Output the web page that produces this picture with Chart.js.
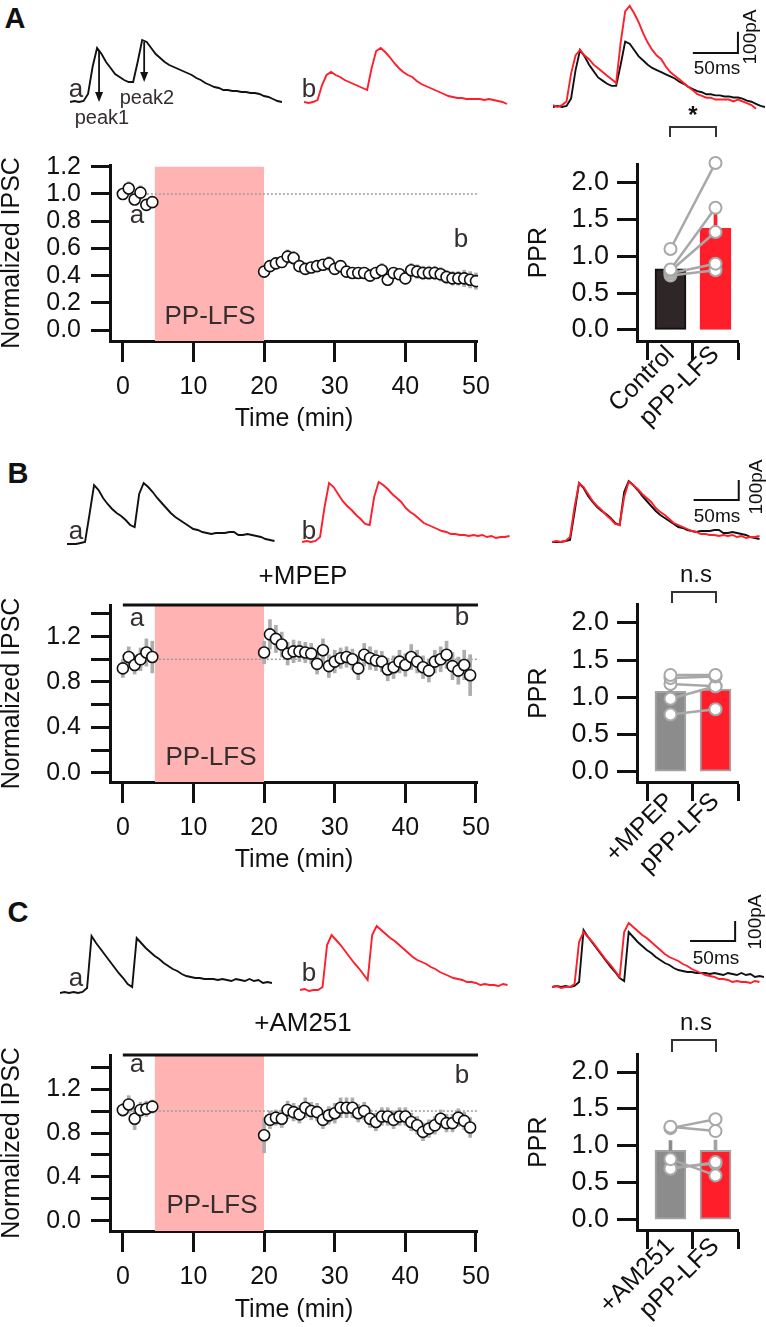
<!DOCTYPE html>
<html>
<head>
<meta charset="utf-8">
<script src="https://cdn.jsdelivr.net/npm/chart.js@4.4.1/dist/chart.umd.min.js"></script>
<style>
  body { margin: 0; background: #fff; }
  #fig { position: relative; width: 766px; height: 1327px; overflow: hidden; font-family: "Liberation Sans", Arial, sans-serif; color: #111; }
  #fig canvas { position: absolute; }
  .t { position: absolute; transform: translate(-50%, -50%); white-space: nowrap; line-height: 1; }
  .lab { font-size: 26px; color: #352e2e; }
  .pk { font-size: 20px; color: #352e2e; }
  .panel { font-size: 29px; font-weight: bold; }
  .drug { font-size: 26px; color: #111; }
  .sb { font-size: 19px; }
  .vert { transform: translate(-50%, -50%) rotate(-90deg); }
  .bracket { position: absolute; box-sizing: border-box; border: 2px solid #333; border-bottom: none; }
</style>
</head>
<body>
<div id="fig">
  <canvas id="trA1" width="212" height="73" style="left:70px;top:35px"></canvas>
  <canvas id="trA2" width="212" height="73" style="left:304px;top:36px"></canvas>
  <canvas id="trA3" width="212" height="115" style="left:553px;top:0px"></canvas>
  <canvas id="tcA" width="500" height="296" style="left:0px;top:140px"></canvas>
  <canvas id="pprA" width="246" height="296" style="left:520px;top:140px"></canvas>

  <canvas id="trB1" width="212" height="80" style="left:67px;top:470px"></canvas>
  <canvas id="trB2" width="212" height="80" style="left:302px;top:468px"></canvas>
  <canvas id="trB3" width="212" height="80" style="left:552px;top:468px"></canvas>
  <canvas id="tcB" width="500" height="297" style="left:0px;top:580px"></canvas>
  <canvas id="pprB" width="246" height="300" style="left:520px;top:580px"></canvas>

  <canvas id="trC1" width="212" height="85" style="left:60px;top:915px"></canvas>
  <canvas id="trC2" width="212" height="85" style="left:300px;top:912px"></canvas>
  <canvas id="trC3" width="212" height="85" style="left:552px;top:909px"></canvas>
  <canvas id="tcC" width="500" height="297" style="left:0px;top:1030px"></canvas>
  <canvas id="pprC" width="246" height="297" style="left:520px;top:1030px"></canvas>

  <div class="t panel" style="left:15px;top:18px">A</div>
  <div class="t panel" style="left:18px;top:473px">B</div>
  <div class="t panel" style="left:18px;top:912px">C</div>

  <div class="t lab" style="left:76px;top:88px">a</div>
  <div class="t lab" style="left:309px;top:88px">b</div>
  <div class="t pk" style="left:102px;top:117px">peak1</div>
  <div class="t pk" style="left:147px;top:97px">peak2</div>
  <div class="t lab" style="left:76px;top:530px">a</div>
  <div class="t lab" style="left:309px;top:530px">b</div>
  <div class="t lab" style="left:76px;top:977px">a</div>
  <div class="t lab" style="left:309px;top:972px">b</div>

  <div class="t lab" style="left:137px;top:214px">a</div>
  <div class="t lab" style="left:461px;top:238px">b</div>
  <div class="t lab" style="left:137px;top:617px">a</div>
  <div class="t lab" style="left:462px;top:616px">b</div>
  <div class="t lab" style="left:137px;top:1063px">a</div>
  <div class="t lab" style="left:462px;top:1074px">b</div>

  <div class="t lab" style="left:210px;top:315px">PP-LFS</div>
  <div class="t lab" style="left:211px;top:756px">PP-LFS</div>
  <div class="t lab" style="left:212px;top:1204px">PP-LFS</div>
  <div class="t drug" style="left:303px;top:575px">+MPEP</div>
  <div class="t drug" style="left:303px;top:1022px">+AM251</div>

  <div class="t" style="left:693px;top:115px;font-size:24px;font-weight:bold">*</div>
  <div class="bracket" style="left:669px;top:126px;width:48px;height:11px"></div>
  <div class="t" style="left:696px;top:574px;font-size:24px">n.s</div>
  <div class="bracket" style="left:671px;top:591px;width:46px;height:12px"></div>
  <div class="t" style="left:696px;top:1022px;font-size:24px">n.s</div>
  <div class="bracket" style="left:671px;top:1039px;width:46px;height:13px"></div>

  <div class="t sb" style="left:717px;top:67px">50ms</div>
  <div class="t sb vert" style="left:749px;top:37px">100pA</div>
  <div class="t sb" style="left:717px;top:515px">50ms</div>
  <div class="t sb vert" style="left:755px;top:487px">100pA</div>
  <div class="t sb" style="left:716px;top:957px">50ms</div>
  <div class="t sb vert" style="left:754px;top:922px">100pA</div>
</div>

<script>
// ---- trace data (pA, one sample every 5 ms) ----
const traceMs = [0, 5, 10, 15, 20, 25, 30, 35, 40, 45, 50, 55, 60, 65, 70, 75, 80, 85, 90, 95, 100, 105, 110, 115,
    120, 125, 130, 135, 140, 145, 150, 155, 160, 165, 170, 175, 180, 185, 190, 195, 200, 205, 210, 215, 220, 225, 230, 235];

const traceA_ctrl = [0, 5, 0, 5, 40, 175, 270, 240, 200, 170, 140, 125, 110, 100, 100, 200, 310, 300, 270, 240, 220, 200, 185, 175,
    165, 155, 145, 135, 120, 110, 95, 85, 75, 70, 60, 60, 55, 55, 50, 50, 45, 45, 40, 30, 25, 15, 5, 0];
const traceA_lfs = [5, 0, 5, 15, 90, 140, 155, 140, 130, 115, 105, 95, 85, 75, 65, 175, 260, 275, 255, 230, 200, 175, 155, 140,
    130, 110, 95, 85, 75, 65, 55, 45, 35, 30, 25, 25, 20, 20, 20, 20, 15, 20, 15, 10, 5, -5];
const traceB_ctrl = [0, 0, 0, 5, 10, 150, 295, 270, 230, 200, 175, 155, 140, 120, 95, 85, 250, 305, 285, 260, 230, 205, 180, 155,
    135, 120, 105, 90, 75, 70, 60, 55, 50, 55, 55, 55, 60, 60, 45, 45, 50, 45, 40, 35, 25, 20, 15];
const traceB_lfs = [0, 5, 0, 5, 25, 175, 295, 275, 240, 205, 180, 160, 135, 115, 90, 85, 225, 300, 285, 265, 240, 220, 200, 170,
    150, 135, 115, 95, 85, 75, 65, 55, 50, 40, 40, 35, 35, 30, 35, 30, 35, 25, 30, 20, 25, 25, 30];
const traceC_ctrl = [0, 5, 0, 5, 0, 5, 25, 285, 250, 220, 190, 160, 130, 100, 75, 45, 30, 275, 250, 225, 205, 185, 170, 150,
    135, 120, 110, 95, 85, 80, 75, 75, 70, 70, 70, 65, 70, 65, 60, 70, 65, 60, 70, 60, 65, 50, 55, 50];
const traceC_lfs = [0, 5, -5, 0, 0, 15, 225, 275, 250, 225, 195, 165, 135, 110, 80, 50, 275, 320, 300, 280, 260, 245, 225, 205,
    185, 165, 150, 140, 130, 115, 105, 90, 80, 70, 60, 55, 50, 40, 40, 35, 25, 30, 25, 25, 20, 30, 25];

// ---- time course data (normalized IPSC, mean and SEM) ----
const minutes = [0, 0.83, 1.67, 2.5, 3.33, 4.17,
    20, 20.83, 21.67, 22.5, 23.33, 24.17, 25, 25.83, 26.67, 27.5, 28.33, 29.17, 30, 30.83, 31.67, 32.5, 33.33, 34.17,
    35, 35.83, 36.67, 37.5, 38.33, 39.17, 40, 40.83, 41.67, 42.5, 43.33, 44.17, 45, 45.83, 46.67, 47.5, 48.33, 49.17, 50];
const stimWindow = [4.5, 20];
const timeTicks = [0, 10, 20, 30, 40, 50];

const ipscA = [1.00, 1.04, 0.96, 1.01, 0.92, 0.94,
    0.43, 0.47, 0.49, 0.50, 0.54, 0.53, 0.47, 0.45, 0.46, 0.47, 0.48, 0.49, 0.45, 0.47, 0.43, 0.42, 0.42, 0.42,
    0.40, 0.42, 0.44, 0.37, 0.42, 0.41, 0.38, 0.44, 0.43, 0.42, 0.42, 0.42, 0.41, 0.39, 0.38, 0.38, 0.38, 0.37, 0.36];
const semA = [0.04, 0.05, 0.04, 0.05, 0.04, 0.03,
    0.04, 0.04, 0.04, 0.04, 0.05, 0.05, 0.04, 0.04, 0.04, 0.04, 0.04, 0.05, 0.04, 0.04, 0.04, 0.03, 0.03, 0.03,
    0.04, 0.03, 0.05, 0.04, 0.04, 0.04, 0.04, 0.05, 0.05, 0.05, 0.05, 0.05, 0.05, 0.05, 0.05, 0.05, 0.06, 0.06, 0.06];
const ipscB = [0.92, 1.02, 0.95, 1.00, 1.06, 1.02,
    1.06, 1.22, 1.18, 1.13, 1.05, 1.07, 1.07, 1.06, 1.05, 0.96, 1.08, 0.94, 0.98, 1.01, 1.02, 1.00, 0.92, 1.04,
    1.01, 0.99, 0.98, 0.91, 0.93, 0.98, 0.95, 1.02, 0.98, 0.93, 0.90, 0.98, 1.00, 1.04, 0.94, 0.90, 0.95, 0.86];
const semB = [0.08, 0.09, 0.08, 0.10, 0.12, 0.14,
    0.10, 0.13, 0.12, 0.11, 0.10, 0.10, 0.09, 0.09, 0.09, 0.09, 0.10, 0.10, 0.10, 0.09, 0.09, 0.09, 0.10, 0.10,
    0.10, 0.09, 0.09, 0.10, 0.10, 0.10, 0.10, 0.11, 0.10, 0.10, 0.10, 0.10, 0.11, 0.12, 0.12, 0.12, 0.13, 0.18];
const ipscC = [1.01, 1.06, 0.93, 1.01, 1.02, 1.04,
    0.78, 0.92, 0.94, 0.93, 1.01, 0.99, 0.97, 1.03, 1.00, 0.99, 0.92, 0.96, 0.98, 1.03, 1.03, 1.03, 0.98, 1.00,
    0.93, 0.90, 0.95, 0.95, 0.92, 0.95, 0.95, 0.90, 0.87, 0.81, 0.84, 0.87, 0.93, 0.89, 0.89, 0.94, 0.91, 0.85];
const semC = [0.06, 0.08, 0.10, 0.07, 0.07, 0.06,
    0.16, 0.08, 0.07, 0.08, 0.08, 0.08, 0.08, 0.09, 0.08, 0.08, 0.08, 0.08, 0.09, 0.09, 0.09, 0.09, 0.08, 0.08,
    0.08, 0.08, 0.08, 0.08, 0.08, 0.08, 0.08, 0.08, 0.08, 0.08, 0.08, 0.08, 0.08, 0.08, 0.08, 0.08, 0.08, 0.09];

// ---- paired-pulse ratio ----
const pprNamesA = ['Control', 'pPP-LFS'];
const pprNamesB = ['+MPEP', 'pPP-LFS'];
const pprNamesC = ['+AM251', 'pPP-LFS'];
const pprMeanA = [0.83, 1.38];
const pprErrA = [0.06, 0.19];
const pprMeanB = [1.08, 1.11];
const pprErrB = [0.09, 0.08];
const pprMeanC = [0.94, 0.94];
const pprErrC = [0.13, 0.14];
const cellsA_before = [1.10, 0.82, 0.80, 0.77, 0.74];
const cellsA_after = [2.27, 1.66, 1.33, 0.90, 0.81];
const cellsB_before = [1.30, 1.26, 1.18, 0.98, 0.77];
const cellsB_after = [1.30, 1.28, 1.15, 1.15, 0.84];
const cellsC_before = [1.26, 1.24, 0.82, 0.69, 0.70];
const cellsC_after = [1.20, 1.36, 0.60, 0.78, 0.76];

Chart.defaults.font.family = '"Liberation Sans", Arial, sans-serif';
Chart.defaults.font.size = 25;
Chart.defaults.color = '#111';
Chart.defaults.animation = false;

const RED = '#ff1e2a';
const AXIS = '#111';

// arrows marking peak1 / peak2 on the first trace
const peakArrows = {
    id: 'peakArrows',
    afterDatasetsDraw(chart) {
        const vals = chart.data.datasets[0].data.map(p => p.y);
        const pts = chart.getDatasetMeta(0).data;
        let p1 = 0;
        for (let i = 0; i < 12; i++) if (vals[i] > vals[p1]) p1 = i;
        let tr = p1;
        for (let i = p1; i < p1 + 12; i++) if (vals[i] < vals[tr]) tr = i;
        let p2 = tr;
        for (let i = tr; i < tr + 6; i++) if (vals[i] > vals[p2]) p2 = i;
        const y = chart.scales.y, ctx = chart.ctx;
        [[p1, 0], [p2, vals[tr]]].forEach(([i, base]) => {
            const x = pts[i].x + 2, y0 = y.getPixelForValue(vals[i]) + 2, y1 = y.getPixelForValue(base);
            ctx.save();
            ctx.strokeStyle = ctx.fillStyle = '#111';
            ctx.lineWidth = 1.8;
            ctx.beginPath(); ctx.moveTo(x, y0); ctx.lineTo(x, y1 - 8); ctx.stroke();
            ctx.beginPath(); ctx.moveTo(x - 4, y1 - 10); ctx.lineTo(x + 4, y1 - 10); ctx.lineTo(x, y1); ctx.closePath(); ctx.fill();
            ctx.restore();
        });
    }
};

function traceSet(values, color, axis) {
    return {
        data: values.map((v, i) => ({x: traceMs[i], y: v})),
        borderColor: color, borderWidth: 1.9, pointRadius: 0, tension: 0, clip: false, yAxisID: axis || 'y'
    };
}

function traceChart(id, datasets, yRange, opts) {
    opts = opts || {};
    const scales = {
        x: {type: 'linear', display: false, min: 0, max: 235},
        y: {type: 'linear', display: false, min: yRange[0], max: yRange[1]}
    };
    if (opts.y2) scales.y2 = {type: 'linear', display: false, min: opts.y2[0], max: opts.y2[1]};
    if (opts.scaleBar) {
        // 50 ms / 100 pA calibration bar
        const sb = opts.scaleBar;
        datasets.push({
            data: [{x: sb[0], y: sb[1]}, {x: sb[0] + 50, y: sb[1]}, {x: sb[0] + 50, y: sb[1] + 100}],
            borderColor: '#111', borderWidth: 2, pointRadius: 0, clip: false
        });
    }
    new Chart(document.getElementById(id), {
        type: 'line',
        data: {datasets: datasets},
        options: {
            responsive: false,
            events: [],
            layout: {padding: 0},
            plugins: {legend: {display: false}, tooltip: {enabled: false}},
            scales: scales
        },
        plugins: opts.arrows ? [peakArrows] : []
    });
}

function timeCourseChart(id, vals, sems, cfg) {
    const xMax = 50.28;
    const datasets = [
        {
            type: 'scatter', order: 0,
            data: vals.map((v, i) => ({x: minutes[i], y: v})),
            pointRadius: 5.5, pointBorderWidth: 1.6, pointBorderColor: '#111', pointBackgroundColor: '#fff'
        },
        {
            type: 'bar', order: 1, grouped: false,
            data: vals.map((v, i) => ({x: minutes[i], y: [v - sems[i], v + sems[i]]})),
            barThickness: 3, backgroundColor: '#adadad'
        },
        {
            type: 'line', order: 2, clip: false,
            data: [{x: 0, y: 1}, {x: xMax, y: 1}],
            borderColor: '#9c9c9c', borderWidth: 1.5, borderDash: [2, 2], pointRadius: 0
        },
        {
            type: 'line', order: 4, fill: 'start',
            data: [{x: stimWindow[0], y: cfg.pinkTop}, {x: stimWindow[1], y: cfg.pinkTop}],
            backgroundColor: '#ffb3b3', borderWidth: 0, pointRadius: 0
        }
    ];
    if (cfg.drug) {
        datasets.push({
            type: 'line', order: 2, clip: false,
            data: [{x: 0, y: cfg.yMax}, {x: xMax, y: cfg.yMax}],
            borderColor: '#111', borderWidth: 3, pointRadius: 0
        });
    }
    new Chart(document.getElementById(id), {
        type: 'scatter',
        data: {datasets: datasets},
        options: {
            responsive: false,
            events: [],
            layout: {padding: {top: cfg.padTop, right: 18, left: 0, bottom: 0}},
            plugins: {legend: {display: false}, tooltip: {enabled: false}},
            scales: {
                x: {
                    type: 'linear', min: -1.82, max: xMax, offset: false,
                    afterBuildTicks: s => { s.ticks = timeTicks.map(v => ({value: v})); },
                    afterFit: s => { s.height = cfg.xHeight; },
                    border: {width: 3, color: AXIS},
                    grid: {offset: false, drawOnChartArea: false, tickLength: 21, tickWidth: 3, color: AXIS},
                    ticks: {padding: 10, autoSkip: false, maxRotation: 0, color: '#111'},
                    title: {display: true, text: 'Time (min)', padding: {top: 0, bottom: 2}, color: '#111'}
                },
                y: {
                    type: 'linear', min: cfg.yMin, max: cfg.yMax,
                    afterBuildTicks: s => { s.ticks = cfg.yTicks.map(v => ({value: v})); },
                    afterFit: s => { s.width = 110; },
                    border: {width: 3, color: AXIS},
                    grid: {drawOnChartArea: false, tickLength: 19, tickWidth: 3, color: AXIS},
                    ticks: {padding: 10, autoSkip: false, color: '#111', callback: (v, i) => cfg.yLabels[i]},
                    title: {display: true, text: 'Normalized IPSC', padding: 0, font: {size: 25, lineHeight: 1}, color: '#111'}
                }
            }
        }
    });
}

function pprChart(id, names, means, errs, before, after, cfg) {
    const datasets = [
        {
            type: 'bar', order: 3, grouped: false,
            data: means.map((m, i) => ({x: i, y: m})),
            backgroundColor: cfg.fill, borderColor: cfg.edge, borderWidth: 2, borderSkipped: false, barThickness: 31
        },
        {
            type: 'bar', order: 2, grouped: false,
            data: means.map((m, i) => ({x: i, y: [m, m + errs[i]]})),
            backgroundColor: cfg.whisker, barThickness: 3
        }
    ];
    before.forEach((b, i) => {
        datasets.push({
            type: 'line', order: 0, clip: false,
            data: [{x: 0, y: b}, {x: 1, y: after[i]}],
            borderColor: '#a8a8a8', borderWidth: 2.5,
            pointRadius: 6, pointBackgroundColor: '#fff', pointBorderColor: '#a8a8a8', pointBorderWidth: 2
        });
    });
    new Chart(document.getElementById(id), {
        type: 'bar',
        data: {datasets: datasets},
        options: {
            responsive: false,
            events: [],
            layout: {padding: {top: cfg.padTop, right: 28, left: 0, bottom: 0}},
            plugins: {legend: {display: false}, tooltip: {enabled: false}},
            scales: {
                x: {
                    type: 'linear', min: -0.744, max: 1.5, offset: false,
                    afterBuildTicks: s => { s.ticks = [-0.5, 0, 0.5, 1, 1.5].map(v => ({value: v})); },
                    afterFit: s => { s.height = cfg.xHeight; },
                    border: {width: 3, color: AXIS},
                    grid: {
                        offset: false, drawOnChartArea: false, tickLength: 19, tickWidth: 3,
                        color: c => Number.isInteger(c.tick && c.tick.value) ? 'rgba(0,0,0,0)' : AXIS
                    },
                    ticks: {
                        autoSkip: false, minRotation: 45, maxRotation: 45, padding: cfg.labelPad, color: '#111',
                        callback: v => v === 0 ? names[0] : (v === 1 ? names[1] : '')
                    }
                },
                y: {
                    type: 'linear', min: cfg.yMin, max: cfg.yMax,
                    afterBuildTicks: s => { s.ticks = [0, 0.5, 1, 1.5, 2].map(v => ({value: v})); },
                    afterFit: s => { s.width = 117; },
                    border: {width: 3, color: AXIS},
                    grid: {drawOnChartArea: false, tickLength: 20, tickWidth: 3, color: AXIS},
                    ticks: {padding: 8, autoSkip: false, color: '#111', font: {size: 27}, callback: v => v.toFixed(1)},
                    title: {display: true, text: 'PPR', padding: {top: 4, bottom: 4}, color: '#111'}
                }
            }
        }
    });
}

// panel A
traceChart('trA1', [traceSet(traceA_ctrl, '#111')], [-30, 335], {arrows: true});
traceChart('trA2', [traceSet(traceA_lfs, RED)], [-30, 335]);
traceChart('trA3', [traceSet(traceA_lfs, RED, 'y2'), traceSet(traceA_ctrl, '#111')], [-38, 507],
    {y2: [-22, 291], scaleBar: [155, 256]});
timeCourseChart('tcA', ipscA, semA, {
    yMin: -0.08, yMax: 1.213, pinkTop: 1.2, padTop: 8, xHeight: 95, drug: false,
    yTicks: [0, 0.2, 0.4, 0.6, 0.8, 1.0, 1.2],
    yLabels: ['0.0', '0.2', '0.4', '0.6', '0.8', '1.0', '1.2']
});
pprChart('pprA', pprNamesA, pprMeanA, pprErrA, cellsA_before, cellsA_after, {
    yMin: -0.152, yMax: 2.253, padTop: 11, xHeight: 95, labelPad: -20,
    fill: ['#2e2627', RED], edge: ['#111', RED], whisker: ['#111', RED]
});

// panel B
traceChart('trB1', [traceSet(traceB_ctrl, '#111')], [-30, 370]);
traceChart('trB2', [traceSet(traceB_lfs, RED)], [-30, 370]);
traceChart('trB3', [traceSet(traceB_lfs, RED), traceSet(traceB_ctrl, '#111')], [-30, 370], {scaleBar: [157, 210]});
timeCourseChart('tcB', ipscB, semB, {
    yMin: -0.082, yMax: 1.479, pinkTop: 1.479, padTop: 12, xHeight: 95, drug: true,
    yTicks: [0, 0.2, 0.4, 0.6, 0.8, 1.0, 1.2, 1.4],
    yLabels: ['0.0', '', '0.4', '', '0.8', '', '1.2', '']
});
pprChart('pprB', pprNamesB, pprMeanB, pprErrB, cellsB_before, cellsB_after, {
    yMin: -0.138, yMax: 2.252, padTop: 12, xHeight: 98, labelPad: -14,
    fill: ['#8c8c8c', RED], edge: ['#a3a3a3', '#a3a3a3'], whisker: ['#8c8c8c', '#a3a3a3']
});

// panel C
traceChart('trC1', [traceSet(traceC_ctrl, '#111')], [-35, 390]);
traceChart('trC2', [traceSet(traceC_lfs, RED)], [-35, 390]);
traceChart('trC3', [traceSet(traceC_lfs, RED), traceSet(traceC_ctrl, '#111')], [-35, 390], {scaleBar: [153, 230]});
timeCourseChart('tcC', ipscC, semC, {
    yMin: -0.092, yMax: 1.51, pinkTop: 1.51, padTop: 10, xHeight: 96, drug: true,
    yTicks: [0, 0.2, 0.4, 0.6, 0.8, 1.0, 1.2, 1.4],
    yLabels: ['0.0', '', '0.4', '', '0.8', '', '1.2', '']
});
pprChart('pprC', pprNamesC, pprMeanC, pprErrC, cellsC_before, cellsC_after, {
    yMin: -0.139, yMax: 2.241, padTop: 12, xHeight: 97, labelPad: -17,
    fill: ['#8c8c8c', RED], edge: ['#a3a3a3', '#a3a3a3'], whisker: ['#8c8c8c', '#a3a3a3']
});
</script>
</body>
</html>
